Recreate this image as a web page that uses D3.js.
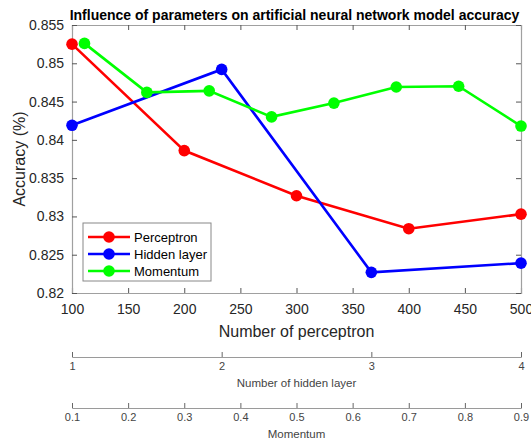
<!DOCTYPE html>
<html>
<head>
<meta charset="utf-8">
<script src="https://cdn.jsdelivr.net/npm/d3@7"></script>
<style>
  body { margin: 0; background: #fff; }
  svg { font-family: "Liberation Sans", Arial, sans-serif; }
</style>
</head>
<body>
<svg id="chart" width="531" height="441"></svg>
<script>
// values
const perceptronX = [100, 200, 300, 400, 500]
const perceptronAcc = [0.8525, 0.8386, 0.8327, 0.8284, 0.8303]
const hiddenX = [1, 2, 3, 4]
const hiddenAcc = [0.8419, 0.8492, 0.8227, 0.8239]
const momentumX = [0.2, 0.3, 0.4, 0.5, 0.6, 0.7, 0.8, 0.9]
const momentumAcc = [0.8526, 0.8462, 0.8464, 0.8430, 0.8448, 0.8469, 0.8470, 0.8418]
const yTicks = [0.82, 0.825, 0.83, 0.835, 0.84, 0.845, 0.85, 0.855]
const perceptronTicks = [100, 150, 200, 250, 300, 350, 400, 450, 500]
const hiddenTicks = [1, 2, 3, 4]
const momentumTicks = [0.1, 0.2, 0.3, 0.4, 0.5, 0.6, 0.7, 0.8, 0.9]

const margin = { left: 72, right: 10, top: 25, bottom: 148 }
const width = 531 - margin.left - margin.right
const height = 441 - margin.top - margin.bottom

const svg = d3.select('#chart')
const g = svg.append('g').attr('transform', `translate(${margin.left},${margin.top})`)

const xP = d3.scaleLinear().domain([100, 500]).range([0, width])
const xH = d3.scaleLinear().domain([1, 4]).range([0, width])
const xM = d3.scaleLinear().domain([0.1, 0.9]).range([0, width])
// momentum curve was plotted on the perceptron axis (m * 500 / 0.9)
const xMplot = d3.scaleLinear().domain([0, 0.9]).range([xP(0), xP(500)])
const y = d3.scaleLinear().domain([0.82, 0.855]).range([height, 0])

const axisColor = '#a0a0a0'
const textColor = '#262626'

// main axes, ticks inward
const axBottom = g.append('g').attr('transform', `translate(0,${height})`)
  .call(d3.axisBottom(xP).tickValues(perceptronTicks).tickSize(-5).tickPadding(13).tickFormat(d3.format('d')))
const axTop = g.append('g')
  .call(d3.axisTop(xP).tickValues(perceptronTicks).tickSize(-5).tickFormat(''))
const axLeft = g.append('g')
  .call(d3.axisLeft(y).tickValues(yTicks).tickSize(-5).tickPadding(8).tickFormat(d => d3.format('')(+d.toFixed(3))))
const axRight = g.append('g').attr('transform', `translate(${width},0)`)
  .call(d3.axisRight(y).tickValues(yTicks).tickSize(-5).tickFormat(''))

;[axBottom, axTop, axLeft, axRight].forEach(a => {
  a.select('.domain').attr('stroke', axisColor).attr('stroke-width', 1.2)
  a.selectAll('line').attr('stroke', '#555')
  a.selectAll('text').attr('fill', textColor).attr('font-size', 14)
})
axBottom.selectAll('text').attr('dy', '0.6em')

// title and axis labels
svg.append('text').attr('x', margin.left + width / 2 - 2).attr('y', 20)
  .attr('text-anchor', 'middle').attr('font-weight', 'bold').attr('font-size', 14)
  .attr('fill', '#000').text('Influence of parameters on artificial neural network model accuracy')
svg.append('text').attr('transform', `translate(25,${margin.top + height / 2}) rotate(-90)`)
  .attr('text-anchor', 'middle').attr('font-size', 16).attr('fill', textColor).text('Accuracy (%)')
svg.append('text').attr('x', margin.left + width / 2).attr('y', 337)
  .attr('text-anchor', 'middle').attr('font-size', 16).attr('fill', textColor).text('Number of perceptron')

// secondary axes below
function extraAxis(scale, ticks, yPos, label, fmt) {
  const a = svg.append('g').attr('transform', `translate(${margin.left},${yPos})`)
    .call(d3.axisBottom(scale).tickValues(ticks).tickSize(-5).tickPadding(6).tickFormat(fmt))
  a.select('.domain').attr('stroke', '#9a9a9a')
  a.selectAll('line').attr('stroke', '#666')
  a.selectAll('text').attr('fill', '#444').attr('font-size', 11).attr('dy', '0.6em')
  svg.append('text').attr('x', margin.left + width / 2).attr('y', yPos + 30)
    .attr('text-anchor', 'middle').attr('font-size', 11.5).attr('fill', '#444').text(label)
}
extraAxis(xH, hiddenTicks, 357, 'Number of hidden layer', d3.format('d'))
extraAxis(xM, momentumTicks, 408, 'Momentum', d3.format('.1f'))

// series
const series = [
  { name: 'Perceptron', color: '#ff0000', x: xP, xs: perceptronX, ys: perceptronAcc },
  { name: 'Hidden layer', color: '#0000ff', x: xH, xs: hiddenX, ys: hiddenAcc },
  { name: 'Momentum', color: '#00ff00', x: xMplot, xs: momentumX, ys: momentumAcc }
]

series.forEach(s => {
  const pts = s.xs.map((v, i) => [s.x(v), y(s.ys[i])])
  g.append('path').attr('d', d3.line()(pts))
    .attr('fill', 'none').attr('stroke', s.color).attr('stroke-width', 2.6)
  g.selectAll(null).data(pts).enter().append('circle')
    .attr('cx', d => d[0]).attr('cy', d => d[1]).attr('r', 5.8).attr('fill', s.color)
})

// legend
const lg = svg.append('g').attr('transform', 'translate(83,223)')
lg.append('rect').attr('width', 128).attr('height', 58)
  .attr('fill', '#fff').attr('stroke', '#888').attr('stroke-width', 1)
series.forEach((s, i) => {
  const yy = 14 + i * 17
  lg.append('line').attr('x1', 5).attr('x2', 47).attr('y1', yy).attr('y2', yy)
    .attr('stroke', s.color).attr('stroke-width', 2.6)
  lg.append('circle').attr('cx', 26).attr('cy', yy).attr('r', 5.8).attr('fill', s.color)
  lg.append('text').attr('x', 51).attr('y', yy).attr('dy', '0.35em')
    .attr('font-size', 13).attr('fill', '#000').text(s.name)
})
</script>
</body>
</html>
